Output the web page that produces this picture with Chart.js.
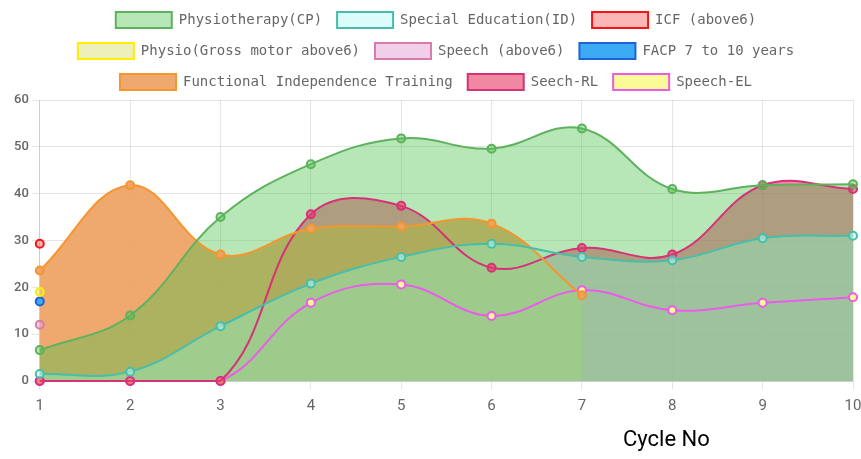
<!DOCTYPE html>
<html>
<head>
<meta charset="utf-8">
<title>Cycle progress</title>
<script src="https://cdn.jsdelivr.net/npm/chart.js@4.4.0/dist/chart.umd.min.js"></script>
<style>
  html, body { margin: 0; padding: 0; background: #fff; }
  .wrap { position: relative; width: 861px; height: 459px; }
  .axis-title { position: absolute; left: 623px; top: 426px; font: 22px Roboto, sans-serif; color: #000; }
</style>
</head>
<body>
<div class="wrap">
  <canvas id="cycleChart"></canvas>
  <div class="axis-title">Cycle No</div>
</div>
<script>
// cycle numbers on the x axis
const cycles = ['1', '2', '3', '4', '5', '6', '7', '8', '9', '10'];

// scores per cycle (null = no session in that cycle)
const physioCP     = [6.6, 14, 35, 46.3, 51.8, 49.6, 53.9, 41, 41.8, 42];
const specialEd    = [1.5, 2, 11.7, 20.8, 26.5, 29.3, 26.5, 25.8, 30.5, 31];
const icfAbove6    = [29.3, null, null, null, null, null, null, null, null, null];
const physioGross  = [19, null, null, null, null, null, null, null, null, null];
const speechAbove6 = [12, null, null, null, null, null, null, null, null, null];
const facp7to10    = [17, null, null, null, null, null, null, null, null, null];
const fitTraining  = [23.6, 41.8, 27, 32.5, 33, 33.6, 18.3, null, null, null];
const speechRL     = [0, 0, 0, 35.6, 37.4, 24.2, 28.4, 27, 41.8, 41];
const speechEL     = [0, 0, 0, 16.7, 20.6, 13.9, 19.4, 15.1, 16.7, 17.9];

const yTicks = [0, 10, 20, 30, 40, 50, 60];

function series(label, data, bg, border, fill) {
    return {
        label: label,
        data: data,
        backgroundColor: bg,
        borderColor: border,
        borderWidth: 2,
        pointRadius: 4,
        pointBorderWidth: 2,
        tension: 0.4,
        clip: false,
        fill: fill ? 'origin' : false
    };
}

const ctx = document.getElementById('cycleChart').getContext('2d');
const chart = new Chart(ctx, {
    type: 'line',
    data: {
        labels: cycles,
        datasets: [
            series('Physiotherapy(CP)', physioCP, 'rgba(75, 192, 75, 0.4)', 'rgb(94, 178, 94)', true),
            series('Special Education(ID)', specialEd, 'rgba(191, 248, 248, 0.55)', 'rgb(72, 190, 170)', true),
            series('ICF (above6)', icfAbove6, 'rgba(250, 110, 110, 0.5)', 'rgb(245, 20, 20)', true),
            series('Physio(Gross motor above6)', physioGross, 'rgba(220, 225, 120, 0.5)', 'rgb(255, 238, 0)', true),
            series('Speech (above6)', speechAbove6, 'rgba(230, 160, 210, 0.5)', 'rgb(215, 125, 170)', true),
            series('FACP 7 to 10 years', facp7to10, 'rgb(60, 170, 245)', 'rgb(30, 100, 215)', true),
            series('Functional Independence Training', fitTraining, 'rgba(238, 162, 99, 0.92)', 'rgb(245, 150, 45)', true),
            series('Seech-RL', speechRL, 'rgba(230, 55, 102, 0.6)', 'rgb(215, 50, 120)', true),
            series('Speech-EL', speechEL, 'rgb(250, 250, 150)', 'rgb(235, 90, 235)', false)
        ]
    },
    options: {
        responsive: true,
        maintainAspectRatio: false,
        animation: false,
        layout: {
            padding: { top: -3, left: 11, right: 0, bottom: 36 }
        },
        scales: {
            x: {
                grid: { color: 'rgba(0, 0, 0, 0.1)' },
                afterFit: (axis) => {
                    // let the last label run off the edge like the original
                    axis.paddingRight = 8;
                },
                ticks: {
                    color: '#666',
                    padding: 8,
                    font: { family: 'Roboto, sans-serif', size: 15 }
                }
            },
            y: {
                min: 0,
                max: 60,
                grid: { color: 'rgba(0, 0, 0, 0.1)' },
                afterBuildTicks: (axis) => {
                    axis.ticks = yTicks.map(v => ({ value: v }));
                },
                ticks: {
                    color: '#666',
                    font: { family: 'Roboto, sans-serif', size: 13, weight: '500' }
                }
            }
        },
        plugins: {
            filler: { drawTime: 'beforeDatasetsDraw' },
            legend: {
                position: 'top',
                labels: {
                    boxWidth: 56,
                    boxHeight: 16,
                    padding: 15,
                    color: '#666',
                    font: { family: "'DejaVu Sans Mono', monospace", size: 14 }
                }
            },
            tooltip: { enabled: false }
        }
    }
});
</script>
</body>
</html>
